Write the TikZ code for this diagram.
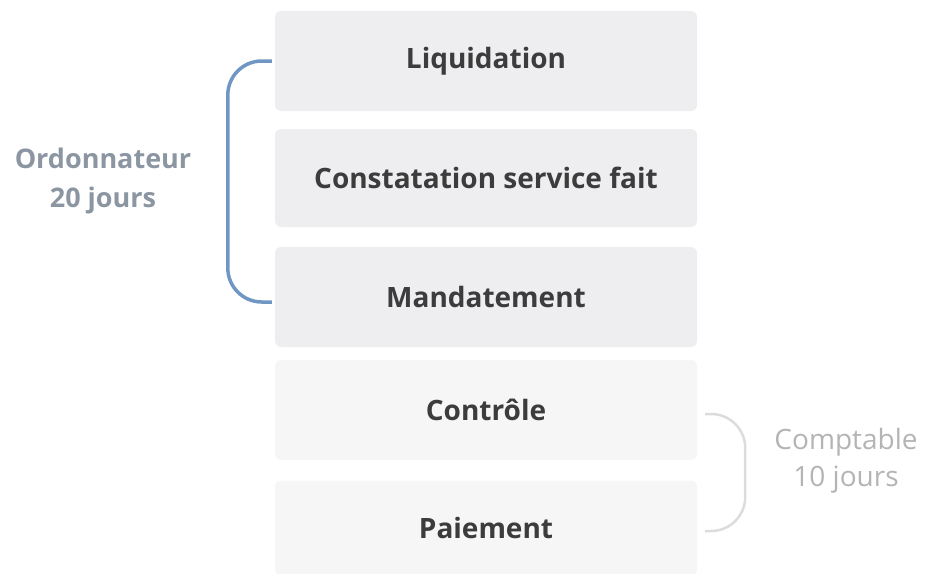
\documentclass[tikz,border=0pt]{standalone}
\usepackage{fontspec}
\setmainfont{Open Sans}
\usepackage{tikz}
\usetikzlibrary{positioning,calc}

\definecolor{boxdark}{HTML}{EEEEF1}
\definecolor{boxlight}{HTML}{F6F6F6}
\definecolor{txtdark}{HTML}{3C3C3C}
\definecolor{ordoblue}{HTML}{7096C4}
\definecolor{ordotxt}{HTML}{8C96A2}
\definecolor{comptgray}{HTML}{DCDCDC}
\definecolor{compttxt}{HTML}{B4B4B4}

\begin{document}
\begin{tikzpicture}[x=1pt,y=-1pt,
	etape/.style={rectangle,rounded corners=6pt,minimum width=422pt,minimum height=100pt,
		fill=boxdark,text=txtdark,font=\fontsize{28}{32}\selectfont\bfseries},
	etapeclair/.style={etape,fill=boxlight},
	accol/.style={line width=3.5pt,rounded corners=34pt}]
	\useasboundingbox (0,0) rectangle (925,573);
	
	% étapes de l'ordonnateur
	\node[etape] (liq)  at (486,61)  {Liquidation};
	\node[etape,minimum height=98pt] (csf) at (486,178) {Constatation service fait};
	\node[etape] (mand) at (486,297) {Mandatement};
	
	% étapes du comptable
	\node[etapeclair] (ctrl) at (486,410) {Contrôle};
	\node[etapeclair,minimum height=95pt] (paie) at (486,528) {Paiement};
	
	% accolades
	\draw[accol,ordoblue] ([xshift=-3pt]liq.west) -- ++(-44,0) |- ([xshift=-3pt,yshift=-5pt]mand.west);
	\draw[accol,comptgray,line width=2.5pt] ([xshift=8pt,yshift=-4pt]ctrl.east) -- ++(40,0) |- ([xshift=8pt,yshift=-3pt]paie.east);
	
	% acteurs
	\node[text=ordotxt,font=\fontsize{27}{39}\selectfont\bfseries,align=center] (ordo) at (103,181) {Ordonnateur\\20 jours};
	\node[text=compttxt,font=\fontsize{28}{37}\selectfont,align=center] (compt) at (846,461) {Comptable\\10 jours};
\end{tikzpicture}
\end{document}
